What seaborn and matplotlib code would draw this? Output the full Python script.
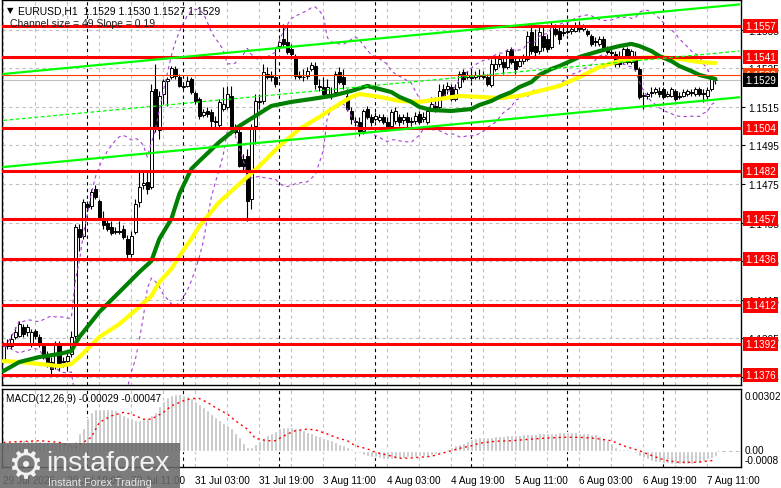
import numpy as np
import pandas as pd
import matplotlib
matplotlib.use("Agg")
import matplotlib.pyplot as plt
import matplotlib.transforms as mtrans
from matplotlib.patches import Rectangle
import seaborn as sns

sns.set_theme(style="white")
plt.rcParams['font.family'] = ['Liberation Sans', 'DejaVu Sans']

# ---------------- data ----------------
opens = [1.13842, 1.13909, 1.13909, 1.13956, 1.13961, 1.14008, 1.13982, 1.13919, 1.13987, 1.13956,
         1.13909, 1.13868, 1.13826, 1.13805, 1.13919, 1.13826, 1.13832, 1.13868, 1.13961, 1.14516,
         1.14480, 1.14646, 1.14636, 1.14724, 1.14662, 1.14568, 1.14548, 1.14527, 1.14501, 1.14506,
         1.14516, 1.14465, 1.14387, 1.14501, 1.14657, 1.14745, 1.14760, 1.14734, 1.15243, 1.15030,
         1.15217, 1.15285, 1.15305, 1.15347, 1.15305, 1.15253, 1.15259, 1.15295, 1.15222, 1.15191,
         1.15108, 1.15129, 1.15124, 1.15077, 1.15056, 1.15139, 1.15150, 1.15207, 1.15046, 1.15020,
         1.14880, 1.14895, 1.14672, 1.15051, 1.15176, 1.15181, 1.15321, 1.15305, 1.15305, 1.15466,
         1.15503, 1.15487, 1.15451, 1.15414, 1.15311, 1.15305, 1.15311, 1.15347, 1.15362, 1.15259,
         1.15253, 1.15217, 1.15207, 1.15227, 1.15331, 1.15305, 1.15207, 1.15129, 1.15072, 1.15072,
         1.15025, 1.15139, 1.15098, 1.15087, 1.15082, 1.15098, 1.15072, 1.15051, 1.15077, 1.15098,
         1.15082, 1.15098, 1.15072, 1.15077, 1.15113, 1.15087, 1.15072, 1.15139, 1.15155, 1.15150,
         1.15243, 1.15243, 1.15253, 1.15191, 1.15253, 1.15331, 1.15305, 1.15300, 1.15305, 1.15316,
         1.15311, 1.15305, 1.15264, 1.15347, 1.15373, 1.15383, 1.15357, 1.15451, 1.15388, 1.15362,
         1.15388, 1.15399, 1.15539, 1.15466, 1.15440, 1.15518, 1.15503, 1.15461, 1.15554, 1.15544,
         1.15539, 1.15539, 1.15544, 1.15544, 1.15570, 1.15554, 1.15544, 1.15518, 1.15492, 1.15477,
         1.15503, 1.15451, 1.15435, 1.15425, 1.15409, 1.15383, 1.15451, 1.15383, 1.15414, 1.15347,
         1.15207, 1.15207, 1.15227, 1.15227, 1.15233, 1.15243, 1.15207, 1.15207, 1.15233, 1.15207,
         1.15207, 1.15217, 1.15227, 1.15217, 1.15243, 1.15217, 1.15207, 1.15243, 1.15290]
highs = [1.13930, 1.13946, 1.13971, 1.14008, 1.14039, 1.14023, 1.14023, 1.13997, 1.13997, 1.13971,
         1.13919, 1.13883, 1.13852, 1.13935, 1.13935, 1.13852, 1.13883, 1.13987, 1.14542, 1.14542,
         1.14672, 1.14662, 1.14724, 1.14745, 1.14672, 1.14610, 1.14568, 1.14558, 1.14527, 1.14558,
         1.14537, 1.14485, 1.14506, 1.14672, 1.14817, 1.14817, 1.14817, 1.15269, 1.15373, 1.15233,
         1.15295, 1.15305, 1.15362, 1.15362, 1.15321, 1.15269, 1.15311, 1.15305, 1.15233, 1.15202,
         1.15139, 1.15150, 1.15139, 1.15103, 1.15191, 1.15253, 1.15259, 1.15259, 1.15061, 1.15035,
         1.14906, 1.14932, 1.15061, 1.15217, 1.15217, 1.15373, 1.15357, 1.15336, 1.15461, 1.15503,
         1.15580, 1.15565, 1.15477, 1.15425, 1.15336, 1.15347, 1.15357, 1.15383, 1.15383, 1.15295,
         1.15305, 1.15295, 1.15253, 1.15336, 1.15357, 1.15347, 1.15243, 1.15150, 1.15098, 1.15098,
         1.15139, 1.15155, 1.15113, 1.15124, 1.15113, 1.15113, 1.15098, 1.15139, 1.15150, 1.15113,
         1.15113, 1.15124, 1.15098, 1.15124, 1.15129, 1.15124, 1.15150, 1.15202, 1.15202, 1.15269,
         1.15269, 1.15279, 1.15269, 1.15269, 1.15336, 1.15347, 1.15336, 1.15347, 1.15336, 1.15347,
         1.15336, 1.15321, 1.15399, 1.15409, 1.15425, 1.15414, 1.15451, 1.15461, 1.15409, 1.15409,
         1.15425, 1.15544, 1.15570, 1.15554, 1.15565, 1.15565, 1.15528, 1.15591, 1.15580, 1.15565,
         1.15580, 1.15591, 1.15570, 1.15591, 1.15596, 1.15580, 1.15554, 1.15528, 1.15513, 1.15518,
         1.15518, 1.15466, 1.15461, 1.15440, 1.15440, 1.15461, 1.15461, 1.15451, 1.15440, 1.15357,
         1.15227, 1.15227, 1.15253, 1.15253, 1.15253, 1.15253, 1.15233, 1.15253, 1.15243, 1.15227,
         1.15243, 1.15243, 1.15243, 1.15253, 1.15253, 1.15243, 1.15253, 1.15311, 1.15300]
lows = [1.13826, 1.13894, 1.13894, 1.13946, 1.13956, 1.13956, 1.13961, 1.13904, 1.13946, 1.13904,
        1.13842, 1.13800, 1.13759, 1.13790, 1.13780, 1.13800, 1.13780, 1.13852, 1.13946, 1.14402,
        1.14465, 1.14610, 1.14620, 1.14672, 1.14568, 1.14516, 1.14506, 1.14485, 1.14490, 1.14490,
        1.14465, 1.14361, 1.14371, 1.14490, 1.14631, 1.14724, 1.14698, 1.14724, 1.15020, 1.14984,
        1.15165, 1.15155, 1.15295, 1.15295, 1.15253, 1.15243, 1.15253, 1.15217, 1.15165, 1.15087,
        1.15098, 1.15098, 1.15046, 1.15046, 1.15046, 1.15129, 1.15139, 1.15035, 1.15010, 1.14838,
        1.14817, 1.14558, 1.14620, 1.14958, 1.15139, 1.15165, 1.15295, 1.15285, 1.15253, 1.15451,
        1.15461, 1.15425, 1.15399, 1.15295, 1.15295, 1.15285, 1.15295, 1.15336, 1.15243, 1.15233,
        1.15207, 1.15202, 1.15191, 1.15217, 1.15269, 1.15243, 1.15129, 1.15061, 1.15051, 1.14999,
        1.15010, 1.15087, 1.15051, 1.15077, 1.15072, 1.15061, 1.15035, 1.15035, 1.15061, 1.15051,
        1.15061, 1.15046, 1.15051, 1.15061, 1.15061, 1.15072, 1.15061, 1.15129, 1.15124, 1.15139,
        1.15191, 1.15217, 1.15181, 1.15181, 1.15243, 1.15279, 1.15295, 1.15285, 1.15295, 1.15295,
        1.15295, 1.15259, 1.15253, 1.15336, 1.15357, 1.15321, 1.15347, 1.15373, 1.15321, 1.15357,
        1.15373, 1.15388, 1.15425, 1.15414, 1.15425, 1.15440, 1.15435, 1.15451, 1.15518, 1.15477,
        1.15518, 1.15528, 1.15528, 1.15539, 1.15539, 1.15544, 1.15518, 1.15466, 1.15466, 1.15466,
        1.15440, 1.15425, 1.15409, 1.15357, 1.15357, 1.15373, 1.15373, 1.15373, 1.15336, 1.15191,
        1.15139, 1.15191, 1.15202, 1.15217, 1.15202, 1.15191, 1.15202, 1.15202, 1.15181, 1.15191,
        1.15202, 1.15207, 1.15207, 1.15207, 1.15207, 1.15176, 1.15191, 1.15233, 1.15270]
closes = [1.13909, 1.13919, 1.13946, 1.13982, 1.14023, 1.13971, 1.14008, 1.13982, 1.13961, 1.13919,
          1.13852, 1.13826, 1.13790, 1.13919, 1.13805, 1.13832, 1.13857, 1.13956, 1.14527, 1.14475,
          1.14657, 1.14631, 1.14708, 1.14683, 1.14579, 1.14537, 1.14516, 1.14496, 1.14506, 1.14501,
          1.14475, 1.14387, 1.14480, 1.14646, 1.14734, 1.14755, 1.14724, 1.15233, 1.15035, 1.15207,
          1.15285, 1.15295, 1.15352, 1.15311, 1.15259, 1.15259, 1.15285, 1.15227, 1.15181, 1.15103,
          1.15124, 1.15113, 1.15077, 1.15072, 1.15176, 1.15165, 1.15217, 1.15046, 1.15020, 1.14843,
          1.14843, 1.14662, 1.15046, 1.15181, 1.15181, 1.15331, 1.15305, 1.15311, 1.15269, 1.15487,
          1.15477, 1.15435, 1.15425, 1.15311, 1.15305, 1.15305, 1.15336, 1.15368, 1.15269, 1.15253,
          1.15217, 1.15253, 1.15217, 1.15321, 1.15279, 1.15269, 1.15139, 1.15087, 1.15077, 1.15025,
          1.15129, 1.15098, 1.15072, 1.15103, 1.15098, 1.15072, 1.15051, 1.15124, 1.15129, 1.15072,
          1.15098, 1.15072, 1.15077, 1.15103, 1.15072, 1.15098, 1.15129, 1.15165, 1.15129, 1.15233,
          1.15207, 1.15259, 1.15191, 1.15243, 1.15321, 1.15295, 1.15316, 1.15305, 1.15316, 1.15311,
          1.15305, 1.15269, 1.15373, 1.15373, 1.15399, 1.15357, 1.15440, 1.15383, 1.15347, 1.15388,
          1.15409, 1.15518, 1.15440, 1.15435, 1.15539, 1.15461, 1.15451, 1.15565, 1.15528, 1.15503,
          1.15534, 1.15544, 1.15554, 1.15570, 1.15554, 1.15565, 1.15528, 1.15477, 1.15487, 1.15503,
          1.15451, 1.15435, 1.15430, 1.15373, 1.15373, 1.15451, 1.15383, 1.15440, 1.15347, 1.15202,
          1.15212, 1.15217, 1.15222, 1.15243, 1.15217, 1.15202, 1.15217, 1.15243, 1.15191, 1.15202,
          1.15227, 1.15233, 1.15222, 1.15243, 1.15217, 1.15222, 1.15238, 1.15295, 1.15290]

# moving averages (bar index, price)
ma_fast_idx = [0, 4, 9, 14, 17, 19, 24, 29, 34, 37, 39, 42, 44, 47, 49, 54, 59, 63, 67, 72, 77, 82,
               87, 91, 94, 97, 99, 102, 104, 107, 112, 117, 119, 122, 124, 127, 129, 132, 134, 137,
               139, 144, 149, 154, 157, 159, 162, 164, 167, 169, 172, 174, 178]
ma_fast_val = [1.13779, 1.13826, 1.13852, 1.13868, 1.13883, 1.13956, 1.14086, 1.14189, 1.14293,
               1.14350, 1.14465, 1.14568, 1.14698, 1.14828, 1.14869, 1.14968, 1.15051, 1.15103,
               1.15155, 1.15176, 1.15191, 1.15207, 1.15233, 1.15259, 1.15243, 1.15227, 1.15202,
               1.15176, 1.15150, 1.15134, 1.15129, 1.15139, 1.15160, 1.15181, 1.15202, 1.15227,
               1.15253, 1.15279, 1.15316, 1.15347, 1.15362, 1.15409, 1.15440, 1.15466, 1.15477,
               1.15466, 1.15440, 1.15414, 1.15388, 1.15362, 1.15336, 1.15316, 1.15295]
ma_slow_idx = [0, 4, 9, 14, 17, 19, 24, 29, 34, 37, 39, 42, 44, 47, 49, 54, 59, 64, 69, 74, 79, 84,
               87, 89, 94, 99, 104, 109, 114, 119, 124, 129, 134, 139, 144, 149, 154, 159, 164, 169,
               174, 178]
ma_slow_val = [1.13831, 1.13826, 1.13816, 1.13805, 1.13816, 1.13852, 1.13956, 1.14023, 1.14112,
               1.14169, 1.14241, 1.14309, 1.14376, 1.14465, 1.14532, 1.14657, 1.14750, 1.14843,
               1.14947, 1.15035, 1.15098, 1.15165, 1.15202, 1.15217, 1.15202, 1.15181, 1.15176,
               1.15191, 1.15207, 1.15202, 1.15196, 1.15207, 1.15233, 1.15259, 1.15305, 1.15357,
               1.15388, 1.15404, 1.15409, 1.15399, 1.15383, 1.15378]

# MACD histogram (per bar) and signal line (read points)
macd_hist = [0.00045, 0.00048, 0.00048, 0.00052, 0.00057, 0.00059, 0.00059, 0.00059, 0.00058, 0.00055,
             0.00050, 0.00048, 0.00046, 0.00046, 0.00046, 0.00044, 0.00040, 0.00032, 0.00055, 0.00095,
             0.00125, 0.00180, 0.00215, 0.00228, 0.00232, 0.00232, 0.00230, 0.00228, 0.00222, 0.00210,
             0.00198, 0.00185, 0.00180, 0.00172, 0.00170, 0.00175, 0.00180, 0.00195, 0.00215, 0.00245,
             0.00272, 0.00295, 0.00305, 0.00310, 0.00312, 0.00305, 0.00300, 0.00290, 0.00275, 0.00255,
             0.00240, 0.00222, 0.00205, 0.00185, 0.00170, 0.00155, 0.00142, 0.00125, 0.00100, 0.00075,
             0.00045, 0.00022, 0.00020, 0.00035, 0.00055, 0.00070, 0.00088, 0.00100, 0.00110, 0.00125,
             0.00132, 0.00133, 0.00132, 0.00125, 0.00120, 0.00112, 0.00105, 0.00098, 0.00088, 0.00080,
             0.00072, 0.00065, 0.00058, 0.00050, 0.00038, 0.00030, 0.00022, 0.00012, 0.00005, -0.00015,
             -0.00025, -0.00030, -0.00032, -0.00035, -0.00042, -0.00045, -0.00046, -0.00045, -0.00044, -0.00042,
             -0.00040, -0.00036, -0.00034, -0.00032, -0.00030, -0.00029, -0.00027, -0.00025, -0.00018, -0.00010,
             0.00005, 0.00012, 0.00022, 0.00030, 0.00035, 0.00045, 0.00055, 0.00062, 0.00070, 0.00075,
             0.00077, 0.00076, 0.00078, 0.00080, 0.00082, 0.00083, 0.00084, 0.00084, 0.00086, 0.00088,
             0.00090, 0.00092, 0.00093, 0.00094, 0.00095, 0.00096, 0.00097, 0.00098, 0.00100, 0.00101,
             0.00101, 0.00101, 0.00101, 0.00101, 0.00100, 0.00098, 0.00096, 0.00093, 0.00090, 0.00082,
             0.00072, 0.00058, 0.00042, 0.00022, 0.00012, 0.00010, 0.00008, 0.00005, -0.00015, -0.00030,
             -0.00038, -0.00048, -0.00055, -0.00060, -0.00063, -0.00066, -0.00070, -0.00072, -0.00073, -0.00074,
             -0.00074, -0.00073, -0.00072, -0.00070, -0.00066, -0.00058, -0.00048, -0.00038, -0.00029]
signal_idx = [0, 9, 14, 18, 20, 22, 24, 27, 30, 32, 35, 37, 40, 42, 45, 47, 49, 51, 53, 56, 58, 61,
              63, 66, 68, 71, 73, 76, 78, 81, 83, 86, 88, 91, 93, 96, 98, 99, 102, 107, 109, 112,
              114, 117, 119, 123, 127, 132, 136, 140, 144, 148, 152, 155, 159, 161, 164, 166, 169,
              173, 177, 178]
signal_val = [0.00046, 0.00055, 0.00046, 0.00019, 0.00046, 0.00074, 0.00156, 0.00192, 0.00211,
              0.00202, 0.00174, 0.00174, 0.00211, 0.00247, 0.00275, 0.00288, 0.00288, 0.00266,
              0.00238, 0.00202, 0.00165, 0.00119, 0.00068, 0.00055, 0.00055, 0.00092, 0.00110,
              0.00119, 0.00115, 0.00092, 0.00074, 0.00055, 0.00027, 0.00010, -0.00009, -0.00024,
              -0.00036, -0.00042, -0.00040, -0.00031, -0.00018, 0.00000, 0.00013, 0.00027, 0.00041,
              0.00052, 0.00055, 0.00064, 0.00070, 0.00074, 0.00074, 0.00068, 0.00055, 0.00027,
              0.00000, -0.00018, -0.00042, -0.00055, -0.00064, -0.00064, -0.00055, -0.00047]

# regression channel (start / end bar, prices)
channel_idx = [0, 184]
channel_upper = [1.15321, 1.15682]
channel_mid = [1.15080, 1.15440]
channel_lower = [1.14838, 1.15200]

levels = [1.1557, 1.1541, 1.1504, 1.1482, 1.1457, 1.1436, 1.1412, 1.1392, 1.1376]
price_ticks = [1.1375, 1.1395, 1.1415, 1.1435, 1.1455, 1.1475, 1.1495, 1.1515, 1.1535, 1.1555]
bid_price = 1.1529
ask_price = 1.15316
ask_label = "1.1532"
header_text = "EURUSD,H1  1.1529 1.1530 1.1527 1.1529"
channel_text = "Channel size = 49 Slope = 0.19"
macd_text = "MACD(12,26,9) -0.00029 -0.00047"

# hourly bar times (weekends skipped)
times = pd.date_range("2026-07-29 03:00", "2026-08-07 13:00", freq="h")
times = times[times.weekday < 5]
n = len(closes)
idx = np.arange(n)

# ---------------- figure ----------------
W, H = 781, 489
fig = plt.figure(figsize=(W / 100, H / 100), dpi=100)
fig.patch.set_facecolor("white")
FS = 7.2


def fx(px):
    return px / W


def fy(py):
    return 1 - py / H


ax = fig.add_axes([fx(2), fy(386), fx(741) - fx(2), fy(1) - fy(386)])
axm = fig.add_axes([fx(2), fy(468), fx(741) - fx(2), fy(390) - fy(468)])
for a in (ax, axm):
    a.set_facecolor("white")
    for s in a.spines.values():
        s.set_color("black")
        s.set_linewidth(1.0)
    a.set_xlim(-0.33, 184.4)

ax.set_ylim(1.137068, 1.157049)
axm.set_ylim(-0.000899, 0.003403)

grid_kw = dict(color="#c0c0c0", lw=0.8, linestyle=(0, (3, 3)), zorder=0.5)
day_kw = dict(color="black", lw=0.8, linestyle=(0, (3, 3)), zorder=0.6)
for p in price_ticks:
    ax.axhline(p, **grid_kw)
for a in (ax, axm):
    for i in range(0, n, 8):
        a.axvline(i, **grid_kw)
    for i, t in enumerate(times):
        if t.hour == 0:
            a.axvline(i, **day_kw)
axm.axhline(0.0, **grid_kw)

# levels
for lv in levels:
    ax.axhline(lv, color="#ff0000", lw=2.2, zorder=4)
ax.axhline(ask_price, color="#ff4000", lw=0.8, zorder=4)
ax.axhline(bid_price, color="#c0c0c0", lw=0.8, zorder=1)

# candles
o = np.array(opens)
c = np.array(closes)
hi = np.array(highs)
lo = np.array(lows)
ax.vlines(idx, lo, hi, color="black", lw=0.8, zorder=2)
up = c >= o
body = np.maximum(np.abs(c - o), 0.00002)
ax.bar(idx, body, bottom=np.minimum(o, c), width=0.75,
       color=np.where(up, "white", "black"), edgecolor="black", linewidth=0.7, zorder=2.2)

# bollinger bands from closes
cs = pd.Series(closes)
mid = cs.rolling(20, min_periods=1).mean()
sd = cs.rolling(20, min_periods=1).std(ddof=0)
ax.plot(idx, mid + 2 * sd, color="#a63fd6", lw=0.8, linestyle=(0, (3, 3)), zorder=3)
ax.plot(idx, mid - 2 * sd, color="#a63fd6", lw=0.8, linestyle=(0, (3, 3)), zorder=3)

# moving averages
sns.lineplot(x=ma_slow_idx, y=ma_slow_val, color="#ffff00", lw=3.0, ax=ax, zorder=3.2)
sns.lineplot(x=ma_fast_idx, y=ma_fast_val, color="#008000", lw=3.0, ax=ax, zorder=3.3)

# channel
sns.lineplot(x=channel_idx, y=channel_upper, color="#00ff00", lw=1.6, ax=ax, zorder=4.2)
sns.lineplot(x=channel_idx, y=channel_lower, color="#00ff00", lw=1.6, ax=ax, zorder=4.2)
ax.plot(channel_idx, channel_mid, color="#00ff00", lw=0.9, linestyle=(0, (3, 2)), zorder=4.2)

# right price labels
ax.yaxis.tick_right()
ax.set_yticks(price_ticks)
ax.set_yticklabels([f"{p:.4f}" for p in price_ticks])
ax.tick_params(axis="y", direction="out", length=3, width=0.8, pad=2, labelsize=FS,
               colors="black")
ax.set_xticks([])
ax.set_xlabel("")
ax.set_ylabel("")
trans = mtrans.blended_transform_factory(ax.transAxes, ax.transData)
box_x = 1.0 + 4 / 739
for lv in levels:
    ax.text(box_x, lv, f"{lv:.4f}", transform=trans, ha="left", va="center",
            fontsize=FS, color="white", zorder=10, clip_on=False,
            bbox=dict(boxstyle="square,pad=0.22", fc="#ff0000", ec="none"))
ax.text(box_x, ask_price, ask_label, transform=trans, ha="left", va="center",
        fontsize=FS, color="white", zorder=10, clip_on=False,
        bbox=dict(boxstyle="square,pad=0.22", fc="#ff4000", ec="none"))
ax.text(box_x, bid_price, f"{bid_price:.4f}", transform=trans, ha="left", va="center",
        fontsize=FS, color="white", zorder=11, clip_on=False,
        bbox=dict(boxstyle="square,pad=0.22", fc="black", ec="none"))

# MACD
axm.bar(idx, macd_hist, width=0.7, color="#c0c0c0", zorder=2)
axm.plot(signal_idx, signal_val, color="#ff0000", lw=1.0, linestyle=(0, (1.5, 2.5)), zorder=3)
axm.set_yticks([])
axm.set_ylabel("")
tm = mtrans.blended_transform_factory(axm.transAxes, axm.transData)
axm.text(box_x, 0.00302, "0.00302", transform=tm, ha="left", va="center", fontsize=FS,
         color="black", clip_on=False)
axm.text(box_x, 0.0, "0.00", transform=mtrans.offset_copy(tm, fig=fig, y=1, units="dots"),
         ha="left", va="center", fontsize=FS, color="black", clip_on=False)
axm.text(box_x, 0.0, "-0.0008", transform=mtrans.offset_copy(tm, fig=fig, y=-9, units="dots"),
         ha="left", va="center", fontsize=FS, color="black", clip_on=False)
axm.text(0.006, 0.885, macd_text, transform=axm.transAxes, ha="left", va="center", fontsize=FS,
         color="black")

# time labels
lab_idx = list(range(0, n, 16))
lab_txt = []
for i in lab_idx:
    t = times[i]
    lab_txt.append(f"{t.day} {t.strftime('%b')} 2026" if i == 0 else f"{t.day} {t.strftime('%b %H:%M')}")
axm.set_xticks(lab_idx)
axm.set_xticklabels(lab_txt, fontsize=FS, ha="left")
axm.tick_params(axis="x", direction="out", length=3, width=0.8, pad=3, colors="black")
axm.set_xlabel("")

# header
fig.text(fx(7), fy(11), "▼", fontsize=6, color="black", va="center", ha="left",
         family=["DejaVu Sans"])
fig.text(fx(18), fy(11), header_text, fontsize=7.5, color="black", va="center", ha="left")
fig.text(fx(10), fy(24), channel_text, fontsize=7.5, color="#202020", va="center", ha="left")

# watermark
fig.patches.append(Rectangle((0, 0), fx(180), fy(444), transform=fig.transFigure,
                             fc="#6a6a6a", ec="none", alpha=0.88, zorder=20))
fig.text(fx(25), fy(467), "⚙", fontsize=29, color="#f2f2f2", ha="center", va="center", zorder=21,
         family=["DejaVu Sans"])
fig.text(fx(46), fy(464), "instaforex", fontsize=20.5, color="#f2f2f2", ha="left", va="center",
         zorder=21)
fig.text(fx(48), fy(483), "Instant Forex Trading", fontsize=7.8, color="#e6e6e6", ha="left",
         va="center", zorder=21)

fig.savefig("out.png", dpi=100, facecolor="white")
